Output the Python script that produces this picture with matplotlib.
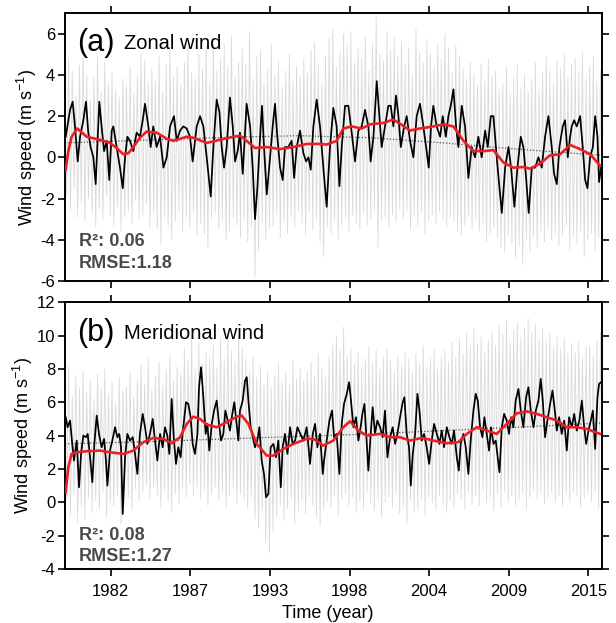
import numpy as np
import matplotlib
matplotlib.use("Agg")
import matplotlib.pyplot as plt

plt.rcParams['font.family'] = ['Liberation Sans', 'DejaVu Sans']
plt.rcParams['mathtext.fontset'] = 'custom'
plt.rcParams['mathtext.rm'] = 'Liberation Sans'
plt.rcParams['mathtext.it'] = 'Liberation Sans:italic'
plt.rcParams['axes.unicode_minus'] = False

# ---------------- data (decimal years) ----------------
t_start = 1978.84
t_end = 2015.91

# grey: quarterly high / low excursions of the daily series
grey_hi_a = [3.5, 4.8, 4.2, 3.0, 4.5,
             5.3, 4.0, 2.8, 3.9, 4.9, 3.2, 4.6, 3.6, 4.1, 3.3, 2.9, 3.8,
             3.5, 4.4, 3.1, 4.0, 5.0, 4.7, 3.6, 4.3, 3.7, 4.9, 3.2, 4.5,
             5.2, 3.9, 4.4, 3.5, 4.6, 5.6, 4.1, 3.8, 5.0, 4.3, 5.4, 3.6,
             5.7, 4.2, 4.8, 5.5, 4.4, 5.9, 3.9, 4.6, 5.3, 4.5, 6.1, 3.8,
             4.9, 5.2, 3.6, 4.3, 5.5, 4.0, 4.7, 3.4, 4.2, 5.0, 3.7, 4.4,
             3.9, 4.8, 4.1, 5.2, 5.6, 4.5, 3.6, 4.9, 5.8, 6.2, 4.4, 5.1,
             6.0, 5.4, 6.1, 4.6, 5.3, 4.8, 5.9, 4.2, 5.5, 6.8, 5.0, 4.7,
             6.1, 5.2, 5.8, 4.9, 5.6, 4.5, 5.3, 4.0, 6.2, 5.1, 4.6, 5.7,
             5.0, 4.4, 5.5, 4.8, 6.0, 5.3, 4.1, 5.4, 4.9, 4.3, 3.8, 4.6,
             4.0, 3.5, 4.5, 3.7, 4.8, 3.9, 4.2, 3.3, 3.6, 4.4, 3.1, 3.9,
             4.5, 3.4, 4.0, 3.2, 3.8, 4.6, 3.3, 4.1, 4.9, 4.2, 3.6, 4.7,
             4.3, 5.0, 3.9, 4.5, 4.8, 4.1, 5.1, 3.8, 4.4, 4.9, 3.7, 4.2]
grey_lo_a = [-1.8, -2.6, -1.5, -2.9, -2.2,
             -3.1, -2.0, -2.7, -3.4, -2.5, -3.0, -1.9, -2.8, -3.3, -2.4, -3.6, -2.9,
             -2.6, -3.2, -2.1, -3.0, -2.8, -2.3, -3.4, -2.7, -3.5, -4.2, -2.9, -3.3,
             -4.0, -3.1, -2.6, -3.6, -2.9, -3.4, -2.7, -3.8, -3.2, -3.7, -4.4, -3.0,
             -2.7, -3.5, -3.1, -4.0, -3.6, -2.9, -3.3, -3.9, -3.0, -4.1, -3.4, -5.8,
             -4.5, -3.2, -4.0, -3.5, -3.3, -2.8, -3.9, -3.1, -3.7, -2.9, -3.4, -2.6,
             -3.2, -3.8, -2.7, -3.5, -3.0, -4.1, -4.8, -3.4, -3.7, -3.1, -4.0, -3.3,
             -2.9, -3.6, -2.8, -3.2, -3.5, -2.7, -3.3, -3.0, -2.6, -4.4, -3.1, -2.9,
             -3.4, -2.8, -3.1, -2.5, -3.0, -2.6, -3.5, -2.9, -3.3, -2.7, -3.7, -3.1,
             -2.8, -3.2, -2.6, -3.0, -3.4, -2.9, -3.1, -3.6, -3.8, -3.3, -2.9, -3.5,
             -3.0, -3.6, -3.2, -4.1, -3.7, -3.4, -3.9, -4.4, -4.6, -3.8, -4.2, -4.9,
             -4.3, -5.2, -4.0, -4.6, -3.9, -4.4, -3.6, -4.1, -3.5, -4.0, -3.7, -4.3,
             -3.8, -3.3, -4.5, -3.9, -4.2, -3.6, -4.8, -4.0, -3.7, -4.5, -3.9, -4.3]
grey_hi_b = [7.0, 8.2, 6.4, 7.6, 6.9,
             7.9, 6.6, 7.3, 6.2, 7.7, 6.8, 8.0, 6.5, 7.2, 6.0, 7.5, 6.7,
             6.9, 7.8, 6.3, 7.4, 8.3, 7.1, 8.7, 6.8, 7.6, 8.4, 7.0, 7.9,
             8.8, 7.3, 8.1, 7.7, 9.2, 8.5, 10.0, 8.0, 9.6, 8.3, 9.0, 8.7,
             9.4, 8.1, 9.8, 8.6, 10.3, 9.1, 8.4, 10.0, 9.3, 8.6, 7.9, 8.8,
             7.5, 8.2, 7.0, 7.8, 6.9, 7.6, 8.3, 7.2, 7.8, 7.1, 8.5, 7.4,
             8.0, 7.3, 7.9, 8.4, 7.6, 8.9, 8.1, 7.5, 8.7, 9.4, 10.0, 9.1,
             10.5, 8.8, 9.2, 8.3, 9.0, 8.1, 8.6, 9.3, 8.4, 9.1, 8.0, 8.7,
             9.2, 8.5, 7.9, 8.8, 8.2, 9.0, 8.6, 7.8, 8.9, 8.3, 9.4, 8.1,
             8.6, 9.2, 8.0, 8.8, 9.1, 8.4, 9.6, 8.7, 9.8, 8.9, 10.1, 9.3,
             10.4, 9.5, 9.9, 9.0, 9.7, 10.2, 9.4, 10.6, 10.1, 10.9, 9.6, 10.3,
             10.8, 9.9, 10.5, 11.0, 10.2, 10.7, 9.8, 10.4, 9.6, 10.1, 9.3, 9.9,
             9.2, 9.8, 8.9, 9.5, 9.0, 9.6, 8.7, 9.3, 9.4, 8.8, 9.7, 10.2]
grey_lo_b = [0.2, -0.8, 0.5, -1.2, -0.3,
             -1.0, 0.3, -0.6, 0.1, -0.4, 0.6, -0.9, 0.0, -0.2, 0.4, -1.3, 0.7,
             0.3, -0.5, 0.8, 0.1, 0.6, 1.0, 0.2, 0.9, 0.4, -0.3, 0.7, 0.1,
             -0.6, 0.5, -0.1, 0.8, 0.3, 1.1, 0.4, 0.9, 0.2, 0.7, -0.2, 0.5,
             0.9, 0.1, 0.6, -0.3, 0.4, 0.8, -0.1, 0.5, 0.2, -0.4, 0.3, -1.0,
             -1.6, -0.5, -2.4, -3.0, -1.8, -0.9, -0.2, -1.1, -0.4, 0.2, -1.3, -0.6,
             0.1, -0.7, 0.3, -0.2, -0.9, -1.4, -0.5, 0.0, -0.3, 0.4, -0.8, 0.2,
             0.5, -0.2, 0.3, -0.6, 0.1, -0.4, 0.6, -0.1, -0.5, 0.2, -0.9, 0.0,
             0.3, -0.3, 0.5, -0.7, -0.2, -1.3, 0.1, -0.6, -0.4, 0.2, -0.8, 0.3,
             0.0, -0.5, 0.4, -0.2, -0.6, 0.1, -0.3, 0.5, 0.2, -0.4, 0.6, -0.1,
             0.4, -0.2, 0.7, 0.0, 0.3, -0.5, 0.5, -0.3, 0.6, 0.0, 0.4, -0.2,
             0.1, 0.5, -0.4, 0.3, 0.7, 0.2, 0.5, -0.1, 0.3, 0.6, 0.0, 0.4,
             -0.2, 0.5, 0.1, 0.6, 0.4, -0.3, 0.2, 0.5, 0.0, 0.6, -0.4, 0.3]

# black: smoothed (monthly) series
blk_t_a = [1978.89, 1979.19, 1979.37, 1979.53, 1979.72, 1979.88, 1980.11, 1980.29, 1980.45, 1980.61,
           1980.80, 1980.96, 1981.07, 1981.21, 1981.37, 1981.54, 1981.72, 1981.90, 1982.07, 1982.18,
           1982.41, 1982.64, 1982.83, 1982.99, 1983.15, 1983.33, 1983.56, 1983.79, 1984.02, 1984.21,
           1984.37, 1984.60, 1984.76, 1984.94, 1985.17, 1985.41, 1985.64, 1985.87, 1986.10, 1986.37,
           1986.56, 1986.79, 1987.02, 1987.25, 1987.48, 1987.66, 1987.94, 1988.17, 1988.40, 1988.63,
           1988.91, 1989.09, 1989.32, 1989.51, 1989.67, 1989.83, 1990.01, 1990.24, 1990.43, 1990.59,
           1990.77, 1990.93, 1991.12, 1991.39, 1991.63, 1991.81, 1991.97, 1992.13, 1992.32, 1992.45,
           1992.59, 1992.78, 1993.01, 1993.19, 1993.35, 1993.51, 1993.70, 1993.88, 1994.04, 1994.27,
           1994.50, 1994.67, 1994.85, 1995.08, 1995.31, 1995.50, 1995.66, 1995.82, 1996.00, 1996.23,
           1996.46, 1996.69, 1996.92, 1997.15, 1997.38, 1997.61, 1997.80, 1997.96, 1998.19, 1998.42,
           1998.65, 1998.88, 1999.11, 1999.34, 1999.57, 1999.80, 1999.96, 2000.15, 2000.38, 2000.56,
           2000.72, 2000.95, 2001.18, 2001.35, 2001.53, 2001.71, 2001.88, 2002.04, 2002.27, 2002.45,
           2002.68, 2002.91, 2003.14, 2003.37, 2003.60, 2003.79, 2003.97, 2004.13, 2004.29, 2004.52,
           2004.76, 2004.94, 2005.15, 2005.33, 2005.49, 2005.68, 2005.86, 2006.02, 2006.25, 2006.48,
           2006.71, 2006.94, 2007.17, 2007.40, 2007.63, 2007.87, 2008.05, 2008.26, 2008.44, 2008.67,
           2008.86, 2009.02, 2009.25, 2009.48, 2009.66, 2009.89, 2010.10, 2010.33, 2010.51, 2010.70,
           2010.88, 2011.09, 2011.32, 2011.55, 2011.78, 2012.01, 2012.24, 2012.47, 2012.63, 2012.82,
           2013.00, 2013.23, 2013.39, 2013.58, 2013.74, 2013.85, 2014.02, 2014.20, 2014.43, 2014.61,
           2014.78, 2014.94, 2015.12, 2015.31, 2015.47, 2015.63, 2015.74, 2015.88]
blk_v_a = [1.0, 2.3, 2.7, 1.5, -0.2, 1.0, 1.8, 2.7, 1.2, 0.5,
           0.0, -1.3, 0.5, 2.7, 1.5, 0.3, 0.8, -1.1, 1.3, 1.5,
           0.5, -0.5, -1.5, 0.0, 1.0, 0.8, 0.3, 1.2, 1.0, 1.8,
           2.6, 1.5, 0.5, 1.5, 0.5, 1.0, -0.5, 0.0, 1.5, 2.0,
           0.8, 1.3, 1.5, 1.4, 1.0, -0.2, 1.5, 2.0, 1.5, 0.0,
           -1.9, 0.5, 2.8, 2.2, 0.5, -0.5, 0.5, 2.9, 1.5, -0.2,
           0.3, 1.2, -0.8, 2.6, 1.5, -0.5, -3.0, -1.5, 1.0, 2.5,
           0.5, -1.8, 0.0, 1.5, 2.6, 1.0, -0.5, -1.1, 0.5, 0.5,
           0.8, -1.0, 0.5, 1.3, 0.2, -0.2, 0.0, -0.6, 1.5, 2.8,
           1.5, -0.5, -2.4, 0.5, 2.4, 1.5, -1.4, 0.5, 2.5, 2.5,
           1.2, -0.2, 1.3, 1.5, 2.3, 1.5, -0.2, 1.0, 3.7, 2.0,
           0.5, 1.5, 2.5, 2.5, 1.5, 3.0, 2.0, 0.5, 1.5, 2.0,
           0.8, 0.0, 2.0, 2.6, 1.5, 0.5, -0.5, 1.5, 2.5, 1.5,
           1.0, 2.0, 1.0, 2.0, 2.5, 3.3, 1.5, 0.5, 2.5, 1.5,
           -1.0, 0.5, 0.0, 1.0, 0.0, 1.3, 0.5, 2.0, 2.0, 0.0,
           -1.5, -2.7, -0.5, 0.5, -0.5, -2.4, -0.5, 1.0, 0.5, -1.0,
           -2.7, -0.5, -0.5, 0.0, -0.5, 1.0, 2.0, 0.5, -0.8, -1.3,
           0.5, 1.5, 1.8, 0.0, 1.0, 1.5, 1.8, 1.5, 2.0, 0.5,
           -1.1, -1.5, 0.0, 0.5, 2.0, 1.0, -1.2, -0.5]

blk_t_b = [1978.89, 1979.02, 1979.19, 1979.32, 1979.46, 1979.65, 1979.81, 1979.95, 1980.11, 1980.29,
           1980.41, 1980.57, 1980.73, 1980.87, 1981.03, 1981.19, 1981.37, 1981.54, 1981.67, 1981.77,
           1981.95, 1982.11, 1982.30, 1982.46, 1982.59, 1982.71, 1982.83, 1982.99, 1983.15, 1983.33,
           1983.52, 1983.68, 1983.84, 1984.02, 1984.21, 1984.37, 1984.53, 1984.71, 1984.90, 1985.06,
           1985.22, 1985.41, 1985.59, 1985.75, 1985.91, 1986.05, 1986.21, 1986.37, 1986.51, 1986.67,
           1986.83, 1986.97, 1987.09, 1987.20, 1987.36, 1987.52, 1987.66, 1987.82, 1987.99, 1988.10,
           1988.24, 1988.40, 1988.56, 1988.68, 1988.81, 1988.98, 1989.14, 1989.32, 1989.46, 1989.62,
           1989.78, 1989.92, 1990.08, 1990.24, 1990.40, 1990.54, 1990.70, 1990.82, 1990.93, 1991.12,
           1991.28, 1991.40, 1991.51, 1991.67, 1991.81, 1991.97, 1992.13, 1992.27, 1992.43, 1992.59,
           1992.73, 1992.89, 1993.05, 1993.24, 1993.42, 1993.58, 1993.75, 1993.88, 1994.04, 1994.21,
           1994.39, 1994.57, 1994.74, 1994.90, 1995.31, 1995.54, 1995.77, 1995.96, 1996.12, 1996.28,
           1996.46, 1996.65, 1996.74, 1996.92, 1997.11, 1997.29, 1997.43, 1997.61, 1997.80, 1997.96,
           1998.12, 1998.31, 1998.47, 1998.60, 1998.77, 1998.95, 1999.11, 1999.23, 1999.39, 1999.53,
           1999.69, 1999.80, 1999.96, 2000.10, 2000.26, 2000.42, 2000.61, 2000.79, 2000.95, 2001.12,
           2001.30, 2001.48, 2001.65, 2001.81, 2001.99, 2002.15, 2002.29, 2002.45, 2002.61, 2002.73,
           2002.87, 2003.03, 2003.19, 2003.33, 2003.49, 2003.65, 2003.83, 2004.00, 2004.18, 2004.34,
           2004.53, 2004.71, 2004.87, 2005.03, 2005.22, 2005.40, 2005.56, 2005.72, 2005.91, 2006.05,
           2006.18, 2006.37, 2006.53, 2006.71, 2006.87, 2007.06, 2007.22, 2007.36, 2007.52, 2007.68,
           2007.82, 2007.98, 2008.14, 2008.28, 2008.44, 2008.60, 2008.74, 2008.86, 2009.02, 2009.18,
           2009.36, 2009.52, 2009.66, 2009.82, 2009.98, 2010.17, 2010.33, 2010.51, 2010.70, 2010.86,
           2011.02, 2011.21, 2011.37, 2011.55, 2011.71, 2011.85, 2012.01, 2012.17, 2012.36, 2012.52,
           2012.66, 2012.82, 2012.98, 2013.16, 2013.33, 2013.51, 2013.67, 2013.86, 2014.02, 2014.20,
           2014.38, 2014.55, 2014.71, 2014.85, 2015.01, 2015.17, 2015.31, 2015.47, 2015.63, 2015.74,
           2015.88]
blk_v_b = [5.1, 4.5, 4.9, 3.7, 2.5, 3.7, 0.9, 2.9, 4.0, 3.9,
           4.1, 2.7, 1.2, 3.5, 5.2, 4.1, 3.3, 3.8, 2.5, 1.0,
           3.1, 3.7, 4.5, 3.9, 4.1, 3.3, -0.7, 2.7, 4.1, 3.7,
           3.9, 2.9, 1.7, 4.1, 5.3, 4.5, 3.5, 4.1, 5.0, 3.7,
           2.5, 4.1, 3.3, 4.5, 4.0, 2.9, 6.2, 3.7, 2.3, 3.3,
           2.7, 4.2, 5.1, 6.0, 5.9, 5.1, 3.5, 2.9, 4.1, 6.9,
           8.1, 6.3, 4.1, 4.7, 3.1, 4.7, 5.5, 6.1, 4.9, 3.7,
           4.1, 5.5, 4.9, 4.3, 5.3, 6.0, 4.7, 3.7, 5.5, 6.1,
           7.3, 7.5, 6.1, 4.5, 3.9, 3.3, 3.7, 4.5, 2.5, 1.7,
           0.3, 0.5, 3.3, 3.5, 2.7, 3.7, 0.9, 3.3, 4.1, 2.9,
           4.5, 3.5, 3.7, 4.5, 3.7, 4.5, 2.3, 4.1, 4.7, 3.3,
           4.1, 1.7, 2.5, 3.7, 4.9, 5.5, 3.9, 4.1, 1.7, 4.7,
           5.9, 6.5, 7.2, 6.1, 4.5, 5.1, 3.7, 4.3, 5.3, 5.9,
           3.5, 1.9, 4.1, 5.7, 4.1, 4.9, 4.5, 3.9, 5.5, 2.7,
           3.9, 4.5, 3.5, 4.1, 5.1, 5.9, 6.3, 4.1, 3.3, 1.0,
           2.9, 4.1, 6.5, 5.5, 3.7, 4.1, 3.3, 2.3, 3.7, 4.7,
           4.1, 3.5, 4.3, 3.3, 4.5, 3.9, 3.5, 4.3, 2.7, 1.9,
           3.5, 4.1, 3.3, 1.7, 3.7, 5.5, 6.5, 6.1, 4.5, 3.9,
           5.1, 4.1, 3.1, 4.5, 3.5, 3.7, 2.7, 1.8, 4.5, 5.3,
           4.9, 4.1, 5.1, 4.5, 6.1, 6.8, 5.5, 4.5, 6.3, 6.9,
           5.5, 4.5, 5.5, 6.1, 7.4, 6.1, 3.9, 4.9, 5.9, 6.7,
           5.7, 4.3, 5.1, 4.1, 4.9, 3.1, 5.1, 4.5, 5.3, 4.3,
           4.9, 6.1, 4.5, 3.5, 4.3, 4.9, 5.5, 3.2, 6.3, 7.1,
           7.2]

# red: low-frequency component
red_t_a = [1978.89, 1979.07, 1979.30, 1979.69, 1980.34, 1981.26, 1981.95, 1982.41, 1982.87, 1983.22,
           1983.56, 1984.02, 1984.48, 1985.17, 1985.87, 1986.33, 1987.25, 1987.71, 1988.63, 1989.55,
           1990.47, 1990.93, 1991.39, 1991.97, 1992.78, 1993.70, 1994.62, 1995.54, 1996.46, 1996.92,
           1997.61, 1998.07, 1998.65, 1999.34, 1999.92, 2000.84, 2001.53, 2001.99, 2002.68, 2003.37,
           2004.29, 2004.99, 2005.68, 2006.37, 2007.06, 2007.75, 2008.44, 2009.13, 2009.82, 2010.51,
           2010.97, 2011.67, 2012.36, 2013.05, 2013.74, 2014.43, 2015.12, 2015.81]
red_v_a = [-0.6, 0.3, 1.0, 1.4, 1.0, 0.85, 0.7, 0.45, 0.15, 0.2,
           0.5, 0.95, 1.25, 1.2, 0.9, 0.8, 1.0, 0.95, 0.7, 0.85,
           1.0, 1.05, 0.8, 0.45, 0.5, 0.4, 0.5, 0.65, 0.65, 0.62,
           0.8, 1.4, 1.5, 1.4, 1.6, 1.67, 1.83, 1.63, 1.3, 1.4,
           1.5, 1.6, 1.5, 0.8, 0.3, 0.3, 0.35, -0.25, -0.5, -0.47,
           -0.55, -0.3, 0.1, 0.15, 0.6, 0.4, 0.15, -0.4]
red_t_b = [1978.89, 1979.07, 1979.30, 1979.65, 1980.34, 1981.26, 1981.95, 1982.87, 1983.56, 1984.25,
           1984.94, 1985.64, 1986.21, 1986.79, 1987.25, 1987.71, 1988.17, 1988.63, 1989.32, 1990.01,
           1990.70, 1991.05, 1991.51, 1992.09, 1992.78, 1993.24, 1993.93, 1994.62, 1995.54, 1996.00,
           1996.69, 1997.38, 1998.07, 1998.54, 1999.11, 1999.69, 2000.61, 2001.30, 2001.99, 2002.68,
           2003.49, 2004.29, 2005.22, 2006.02, 2006.60, 2007.29, 2007.98, 2008.67, 2009.36, 2010.05,
           2010.74, 2011.44, 2012.13, 2012.82, 2013.51, 2014.20, 2014.89, 2015.81]
red_v_b = [0.6, 2.1, 2.9, 3.0, 3.06, 3.1, 3.0, 2.9, 3.1, 3.6,
           3.86, 3.8, 3.54, 3.9, 4.7, 5.13, 5.0, 4.66, 4.5, 4.8,
           5.13, 5.2, 4.7, 3.5, 2.8, 2.8, 3.2, 3.5, 3.8, 3.8,
           3.4, 3.7, 4.5, 4.86, 4.3, 4.0, 4.1, 3.9, 3.9, 3.7,
           3.86, 3.7, 3.54, 3.6, 4.1, 4.5, 4.3, 4.1, 4.7, 5.33,
           5.45, 5.3, 5.1, 4.9, 4.5, 4.5, 4.4, 4.1]

# dotted: polynomial trend
trend_t = [1978.84, 1985.0, 1990.0, 1995.0, 2000.0, 2005.0, 2010.0, 2015.91]
trend_a = [0.7, 0.85, 0.97, 1.05, 0.95, 0.7, 0.4, 0.1]
trend_b = [3.5, 3.65, 3.8, 3.95, 4.1, 4.3, 4.5, 4.75]

tick_pos = [1982, 1987.5, 1993, 1998.5, 2004, 2009.5, 2015]
tick_lab = ['1982', '1987', '1993', '1998', '2004', '2009', '2015']

panels = [
    dict(tag='(a)', name='Zonal wind', hi=grey_hi_a, lo=grey_lo_a, bt=blk_t_a, bv=blk_v_a,
         rt=red_t_a, rv=red_v_a, tr=trend_a, ylim=(-6, 7), yt=np.arange(-6, 7, 2),
         r2='R²: 0.06', rmse='RMSE:1.18', ty=(0.888, 0.147, 0.066)),
    dict(tag='(b)', name='Meridional wind', hi=grey_hi_b, lo=grey_lo_b, bt=blk_t_b, bv=blk_v_b,
         rt=red_t_b, rv=red_v_b, tr=trend_b, ylim=(-4, 12), yt=np.arange(-4, 13, 2),
         r2='R²: 0.08', rmse='RMSE:1.27', ty=(0.884, 0.127, 0.046)),
]

fig = plt.figure(figsize=(6.16, 6.23), dpi=100)
ax_a = fig.add_axes([0.1055, 0.549, 0.871, 0.430])
ax_b = fig.add_axes([0.1055, 0.0867, 0.871, 0.4283])

for ax, p in zip([ax_a, ax_b], panels):
    n = len(p['hi'])
    tg = np.empty(2 * n)
    vg = np.empty(2 * n)
    tg[0::2] = t_start + 0.25 * np.arange(n)
    tg[1::2] = t_start + 0.125 + 0.25 * np.arange(n)
    vg[0::2] = p['hi']
    vg[1::2] = p['lo']
    ax.plot(tg, vg, color='#dadada', lw=0.6, zorder=1)
    ax.plot(trend_t, p['tr'], color='#555555', lw=0.9, ls=(0, (1, 1.5)), zorder=2)
    ax.plot(p['bt'], p['bv'], color='black', lw=1.25, zorder=3)
    ax.plot(p['rt'], p['rv'], color='#ec1f24', lw=1.9, zorder=4)

    ax.set_xlim(t_start, t_end)
    ax.set_ylim(*p['ylim'])
    ax.set_yticks(p['yt'])
    ax.set_xticks(tick_pos)
    ax.tick_params(direction='out', length=5, width=1.2, labelsize=12,
                   top=True, right=True, pad=2)
    ax.tick_params(axis='x', pad=6)
    for s in ax.spines.values():
        s.set_linewidth(1.4)
    ax.set_ylabel('Wind speed (m s$^{-1}$)', fontsize=13, labelpad=1)

    ax.text(0.022, p['ty'][0], p['tag'], transform=ax.transAxes, fontsize=22,
            va='center', ha='left')
    ax.text(0.11, p['ty'][0], p['name'], transform=ax.transAxes, fontsize=14.5,
            va='center', ha='left')
    ax.text(0.026, p['ty'][1], p['r2'], transform=ax.transAxes, fontsize=13,
            fontweight='bold', color='#4a4a4a', va='center', ha='left')
    ax.text(0.026, p['ty'][2], p['rmse'], transform=ax.transAxes, fontsize=13,
            fontweight='bold', color='#4a4a4a', va='center', ha='left')

ax_a.set_xticklabels([])
ax_b.set_xticklabels(tick_lab)
ax_b.set_xlabel('Time (year)', fontsize=13)
ax_b.xaxis.set_label_coords(0.49, -0.135)

fig.savefig('out.png', dpi=100)
